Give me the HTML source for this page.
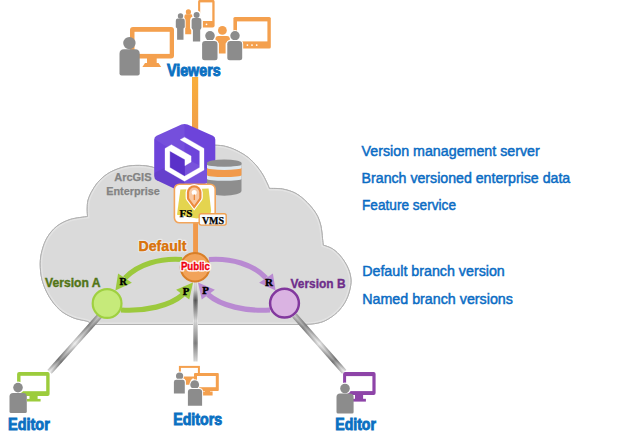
<!DOCTYPE html>
<html><head><meta charset="utf-8">
<style>
html,body{margin:0;padding:0;background:#fff;}
body{width:640px;height:445px;overflow:hidden;}
svg{display:block;}
text{font-family:"Liberation Sans",sans-serif;}
.serif{font-family:"Liberation Serif",serif;font-weight:bold;}
</style></head>
<body>
<svg width="640" height="445" viewBox="0 0 640 445">
<defs>
  <linearGradient id="gV" x1="0" y1="0" x2="1" y2="0">
    <stop offset="0" stop-color="#fbfbfb"/>
    <stop offset="0.1" stop-color="#e4e4e4"/>
    <stop offset="0.23" stop-color="#5e5e5e"/>
    <stop offset="0.36" stop-color="#a8a8a8"/>
    <stop offset="0.49" stop-color="#f6f6f6"/>
    <stop offset="0.77" stop-color="#8c8c8c"/>
    <stop offset="1" stop-color="#fafafa"/>
  </linearGradient>
  <linearGradient id="gVc" x1="0" y1="0" x2="0" y2="1">
    <stop offset="0" stop-color="#fff" stop-opacity="0.45"/>
    <stop offset="0.5" stop-color="#000" stop-opacity="0.12"/>
    <stop offset="1" stop-color="#fff" stop-opacity="0.45"/>
  </linearGradient>
  <linearGradient id="gD" x1="0" y1="0" x2="1" y2="0">
    <stop offset="0" stop-color="#bdbdbd"/>
    <stop offset="0.2" stop-color="#8c8c8c"/>
    <stop offset="0.5" stop-color="#f0f0f0"/>
    <stop offset="0.8" stop-color="#7c7c7c"/>
    <stop offset="1" stop-color="#f2f2f2"/>
  </linearGradient>
  <linearGradient id="gDc" x1="0" y1="0" x2="0" y2="1">
    <stop offset="0" stop-color="#000" stop-opacity="0.18"/>
    <stop offset="0.5" stop-color="#fff" stop-opacity="0.2"/>
    <stop offset="1" stop-color="#000" stop-opacity="0.18"/>
  </linearGradient>
  <linearGradient id="olg" x1="0" y1="0" x2="0" y2="1">
    <stop offset="0" stop-color="#f9ae3a"/>
    <stop offset="1" stop-color="#f09e4a"/>
  </linearGradient>
  <linearGradient id="hexg" x1="0" y1="0" x2="1" y2="1">
    <stop offset="0" stop-color="#7449e0"/>
    <stop offset="1" stop-color="#6438d2"/>
  </linearGradient>
</defs>
<rect width="640" height="445" fill="#fff"/>

<!-- ===== Viewers icons ===== -->
<!-- big monitor -->
<rect x="130" y="27" width="44" height="31.5" rx="3" fill="#f4a04e"/>
<rect x="134.5" y="31.8" width="35.2" height="22.1" fill="#fff"/>
<rect x="147" y="58" width="9.7" height="5.5" fill="#f4a04e"/>
<polygon points="142.4,67 161.2,67 158.5,63 145,63" fill="#f4a04e"/>
<!-- big person -->
<g fill="#8c8c8c">
  <circle cx="129.4" cy="43.1" r="6.2"/>
  <path d="M119.5,53.8 Q119.5,49.3 124.0,49.3 L135.2,49.3 Q139.7,49.3 139.7,53.8 L139.7,73.4 Q139.7,75.4 137.7,75.4 L121.5,75.4 Q119.5,75.4 119.5,73.4 Z"/>
</g>

<!-- phone -->
<rect x="198.1" y="-0.2" width="16.5" height="27.8" rx="2" fill="#f4a04e"/>
<rect x="200.2" y="2.4" width="12.1" height="18.6" fill="#fff"/>
<circle cx="206.5" cy="24.3" r="0.9" fill="#fff"/>
<!-- small people -->
<g fill="#f4a04e">
  <circle cx="188.4" cy="11.9" r="2.6"/>
  <path d="M184.4,16.3 Q184.4,14.2 186.4,14.2 L190.9,14.2 Q192.9,14.2 192.9,16.3 L192.9,25 L191.6,27 L191.6,34.2 L185.2,34.2 L185.2,27 L184.4,25 Z"/>
</g>
<g fill="#fff" stroke="#fff" stroke-width="1.6" stroke-linejoin="round">
    <circle cx="180.5" cy="16" r="2.7"/>
    <path d="M175.8,20.8 Q175.8,18.6 177.8,18.6 L182.8,18.6 Q184.8,18.6 184.8,20.8 L184.8,27.3 L183.5,28.5 L183.5,39.7 L177.1,39.7 L177.1,28.5 L175.8,27.3 Z"/>
</g>
<g fill="#8c8c8c">
    <circle cx="180.5" cy="16" r="2.7"/>
    <path d="M175.8,20.8 Q175.8,18.6 177.8,18.6 L182.8,18.6 Q184.8,18.6 184.8,20.8 L184.8,27.3 L183.5,28.5 L183.5,39.7 L177.1,39.7 L177.1,28.5 L175.8,27.3 Z"/>
</g>
<g fill="#fff" stroke="#fff" stroke-width="3" stroke-linejoin="round">
    <circle cx="196.6" cy="15" r="3"/>
    <path d="M191.6,20.3 Q191.6,18 193.8,18 L199.2,18 Q201.4,18 201.4,20.3 L201.4,28 L200.2,30 L200.2,41.4 L192.9,41.4 L192.9,30 L191.6,28 Z"/>
</g>
<g fill="#8c8c8c">
    <circle cx="196.6" cy="15" r="3"/>
    <path d="M191.6,20.3 Q191.6,18 193.8,18 L199.2,18 Q201.4,18 201.4,20.3 L201.4,28 L200.2,30 L200.2,41.4 L192.9,41.4 L192.9,30 L191.6,28 Z"/>
</g>

<!-- TV -->
<rect x="233.4" y="17" width="37.4" height="31.5" rx="1.5" fill="#f4a04e"/>
<rect x="237" y="21.4" width="30.4" height="20" fill="#fff"/>
<g fill="#fff"><circle cx="247.4" cy="45.1" r="0.9"/><circle cx="252" cy="45.1" r="0.9"/><circle cx="256.7" cy="45.1" r="0.9"/></g>
<!-- group people -->
<g stroke="#fff" stroke-width="2" paint-order="stroke">
  <g fill="#f4a04e">
    <circle cx="222.4" cy="30.4" r="4.4"/>
    <path d="M215.4,38.6 Q215.4,35.9 218.4,35.9 L226.9,35.9 Q229.9,35.9 229.9,38.6 L229.9,39.5 L225.6,43.4 L225.6,53.4 L218.8,53.4 L218.8,43.4 L215.4,39.5 Z"/>
  </g>
  <g fill="#8c8c8c">
    <circle cx="210" cy="35.8" r="4.8"/>
    <path d="M202.1,44.3 Q202.1,41.1 205.3,41.1 L214.3,41.1 Q217.5,41.1 217.5,44.3 L217.5,57.8 Q217.5,60.3 215,60.3 L204.6,60.3 Q202.1,60.3 202.1,57.8 Z"/>
    <circle cx="235" cy="35.8" r="4.7"/>
    <path d="M227.3,44.3 Q227.3,41.1 230.5,41.1 L239,41.1 Q242.2,41.1 242.2,44.3 L242.2,57.8 Q242.2,60.3 239.7,60.3 L229.8,60.3 Q227.3,60.3 227.3,57.8 Z"/>
  </g>
</g>

<text x="166.9" y="75.5" font-size="16" font-weight="bold" fill="#0a70c2" stroke="#0a70c2" stroke-width="0.9" textLength="53.8" lengthAdjust="spacingAndGlyphs">Viewers</text>

<!-- ===== Cloud ===== -->
<clipPath id="cloudclip"><path d="M87.5,216.5 C87.5,215.2 87.1,211.8 87.2,209 C87.3,206.2 87.2,203.2 88.1,200 C89,196.8 90.6,193.3 92.6,190 C94.5,186.7 96.8,183.2 99.8,180.2 C102.8,177.2 106.4,174.2 110.6,172 C114.8,169.8 120.2,167.8 125,166.7 C129.8,165.6 134.8,165.3 139.3,165.4 C143.8,165.5 147.7,165.9 152,167 C156.3,168.1 162.8,171.2 165,172 C166.7,169.2 170,159.3 175,155 C180,150.7 188,147.6 195,146 C202,144.4 211.7,145.1 217.2,145.3 C222.7,145.5 224.4,146.1 228,147.1 C231.6,148.1 235.4,149.8 238.8,151.6 C242.2,153.4 245.7,155.5 248.7,157.9 C251.7,160.3 254.3,163.2 256.7,166 C259.1,168.8 261.2,172 263,175 C264.8,178 266.4,181.8 267.5,184 C268.6,186.2 269,187.7 269.3,188.4 C271.5,188.5 278.1,188.2 282.5,189 C286.9,189.8 291.9,191.2 296,193.5 C300.1,195.8 303.8,199.1 307.2,202.5 C310.6,205.9 313.9,209.9 316.2,213.7 C318.4,217.4 319.6,220.9 320.7,225 C321.8,229.1 322.1,235.1 322.5,238.4 C322.9,241.8 323.1,244 323.2,245.1 C324.8,245.7 329.5,246.9 332.6,248.9 C335.7,250.9 339,254.1 341.6,257.4 C344.2,260.7 346.7,264.9 348.3,268.7 C349.9,272.4 350.8,276.2 351,279.9 C351.2,283.6 350.5,287.3 349.5,291 C348.5,294.7 347.1,298.7 345,302.3 C342.9,305.9 340.3,309.4 337.1,312.4 C333.9,315.4 329.6,318.4 325.9,320.3 C322.2,322.2 319,322.9 314.7,323.6 C310.4,324.3 302.4,324.4 300,324.5 L90,324.5 C89.7,324 90.7,322.6 87.9,321.5 C85.1,320.4 77.8,319.7 73.1,317.7 C68.4,315.7 63.6,313.3 59.6,309.7 C55.6,306.1 51.8,301.1 48.9,296.2 C46,291.2 43.5,285.4 42.1,280 C40.7,274.6 40.2,268.8 40.2,263.9 C40.2,259 40.9,254.9 42.1,250.4 C43.3,245.9 45,241 47.5,237 C50,233 53.1,229.1 56.9,226.2 C60.7,223.3 65.3,221 70.4,219.4 C75.5,217.8 84.7,217 87.5,216.5 Z"/></clipPath>
<path id="cloudp" d="M87.5,216.5 C87.5,215.2 87.1,211.8 87.2,209 C87.3,206.2 87.2,203.2 88.1,200 C89,196.8 90.6,193.3 92.6,190 C94.5,186.7 96.8,183.2 99.8,180.2 C102.8,177.2 106.4,174.2 110.6,172 C114.8,169.8 120.2,167.8 125,166.7 C129.8,165.6 134.8,165.3 139.3,165.4 C143.8,165.5 147.7,165.9 152,167 C156.3,168.1 162.8,171.2 165,172 C166.7,169.2 170,159.3 175,155 C180,150.7 188,147.6 195,146 C202,144.4 211.7,145.1 217.2,145.3 C222.7,145.5 224.4,146.1 228,147.1 C231.6,148.1 235.4,149.8 238.8,151.6 C242.2,153.4 245.7,155.5 248.7,157.9 C251.7,160.3 254.3,163.2 256.7,166 C259.1,168.8 261.2,172 263,175 C264.8,178 266.4,181.8 267.5,184 C268.6,186.2 269,187.7 269.3,188.4 C271.5,188.5 278.1,188.2 282.5,189 C286.9,189.8 291.9,191.2 296,193.5 C300.1,195.8 303.8,199.1 307.2,202.5 C310.6,205.9 313.9,209.9 316.2,213.7 C318.4,217.4 319.6,220.9 320.7,225 C321.8,229.1 322.1,235.1 322.5,238.4 C322.9,241.8 323.1,244 323.2,245.1 C324.8,245.7 329.5,246.9 332.6,248.9 C335.7,250.9 339,254.1 341.6,257.4 C344.2,260.7 346.7,264.9 348.3,268.7 C349.9,272.4 350.8,276.2 351,279.9 C351.2,283.6 350.5,287.3 349.5,291 C348.5,294.7 347.1,298.7 345,302.3 C342.9,305.9 340.3,309.4 337.1,312.4 C333.9,315.4 329.6,318.4 325.9,320.3 C322.2,322.2 319,322.9 314.7,323.6 C310.4,324.3 302.4,324.4 300,324.5 L90,324.5 C89.7,324 90.7,322.6 87.9,321.5 C85.1,320.4 77.8,319.7 73.1,317.7 C68.4,315.7 63.6,313.3 59.6,309.7 C55.6,306.1 51.8,301.1 48.9,296.2 C46,291.2 43.5,285.4 42.1,280 C40.7,274.6 40.2,268.8 40.2,263.9 C40.2,259 40.9,254.9 42.1,250.4 C43.3,245.9 45,241 47.5,237 C50,233 53.1,229.1 56.9,226.2 C60.7,223.3 65.3,221 70.4,219.4 C75.5,217.8 84.7,217 87.5,216.5 Z" fill="#dadada" stroke="#ababab" stroke-width="1"/>
<path d="M87.5,216.5 C87.5,215.2 87.1,211.8 87.2,209 C87.3,206.2 87.2,203.2 88.1,200 C89,196.8 90.6,193.3 92.6,190 C94.5,186.7 96.8,183.2 99.8,180.2 C102.8,177.2 106.4,174.2 110.6,172 C114.8,169.8 120.2,167.8 125,166.7 C129.8,165.6 134.8,165.3 139.3,165.4 C143.8,165.5 147.7,165.9 152,167 C156.3,168.1 162.8,171.2 165,172 C166.7,169.2 170,159.3 175,155 C180,150.7 188,147.6 195,146 C202,144.4 211.7,145.1 217.2,145.3 C222.7,145.5 224.4,146.1 228,147.1 C231.6,148.1 235.4,149.8 238.8,151.6 C242.2,153.4 245.7,155.5 248.7,157.9 C251.7,160.3 254.3,163.2 256.7,166 C259.1,168.8 261.2,172 263,175 C264.8,178 266.4,181.8 267.5,184 C268.6,186.2 269,187.7 269.3,188.4 C271.5,188.5 278.1,188.2 282.5,189 C286.9,189.8 291.9,191.2 296,193.5 C300.1,195.8 303.8,199.1 307.2,202.5 C310.6,205.9 313.9,209.9 316.2,213.7 C318.4,217.4 319.6,220.9 320.7,225 C321.8,229.1 322.1,235.1 322.5,238.4 C322.9,241.8 323.1,244 323.2,245.1 C324.8,245.7 329.5,246.9 332.6,248.9 C335.7,250.9 339,254.1 341.6,257.4 C344.2,260.7 346.7,264.9 348.3,268.7 C349.9,272.4 350.8,276.2 351,279.9 C351.2,283.6 350.5,287.3 349.5,291 C348.5,294.7 347.1,298.7 345,302.3 C342.9,305.9 340.3,309.4 337.1,312.4 C333.9,315.4 329.6,318.4 325.9,320.3 C322.2,322.2 319,322.9 314.7,323.6 C310.4,324.3 302.4,324.4 300,324.5 L90,324.5 C89.7,324 90.7,322.6 87.9,321.5 C85.1,320.4 77.8,319.7 73.1,317.7 C68.4,315.7 63.6,313.3 59.6,309.7 C55.6,306.1 51.8,301.1 48.9,296.2 C46,291.2 43.5,285.4 42.1,280 C40.7,274.6 40.2,268.8 40.2,263.9 C40.2,259 40.9,254.9 42.1,250.4 C43.3,245.9 45,241 47.5,237 C50,233 53.1,229.1 56.9,226.2 C60.7,223.3 65.3,221 70.4,219.4 C75.5,217.8 84.7,217 87.5,216.5 Z" fill="none" stroke="#e3e3e3" stroke-width="4" clip-path="url(#cloudclip)"/>
<path d="M87.5,216.5 C87.5,215.2 87.1,211.8 87.2,209 C87.3,206.2 87.2,203.2 88.1,200 C89,196.8 90.6,193.3 92.6,190 C94.5,186.7 96.8,183.2 99.8,180.2 C102.8,177.2 106.4,174.2 110.6,172 C114.8,169.8 120.2,167.8 125,166.7 C129.8,165.6 134.8,165.3 139.3,165.4 C143.8,165.5 147.7,165.9 152,167 C156.3,168.1 162.8,171.2 165,172 C166.7,169.2 170,159.3 175,155 C180,150.7 188,147.6 195,146 C202,144.4 211.7,145.1 217.2,145.3 C222.7,145.5 224.4,146.1 228,147.1 C231.6,148.1 235.4,149.8 238.8,151.6 C242.2,153.4 245.7,155.5 248.7,157.9 C251.7,160.3 254.3,163.2 256.7,166 C259.1,168.8 261.2,172 263,175 C264.8,178 266.4,181.8 267.5,184 C268.6,186.2 269,187.7 269.3,188.4 C271.5,188.5 278.1,188.2 282.5,189 C286.9,189.8 291.9,191.2 296,193.5 C300.1,195.8 303.8,199.1 307.2,202.5 C310.6,205.9 313.9,209.9 316.2,213.7 C318.4,217.4 319.6,220.9 320.7,225 C321.8,229.1 322.1,235.1 322.5,238.4 C322.9,241.8 323.1,244 323.2,245.1 C324.8,245.7 329.5,246.9 332.6,248.9 C335.7,250.9 339,254.1 341.6,257.4 C344.2,260.7 346.7,264.9 348.3,268.7 C349.9,272.4 350.8,276.2 351,279.9 C351.2,283.6 350.5,287.3 349.5,291 C348.5,294.7 347.1,298.7 345,302.3 C342.9,305.9 340.3,309.4 337.1,312.4 C333.9,315.4 329.6,318.4 325.9,320.3 C322.2,322.2 319,322.9 314.7,323.6 C310.4,324.3 302.4,324.4 300,324.5 L90,324.5 C89.7,324 90.7,322.6 87.9,321.5 C85.1,320.4 77.8,319.7 73.1,317.7 C68.4,315.7 63.6,313.3 59.6,309.7 C55.6,306.1 51.8,301.1 48.9,296.2 C46,291.2 43.5,285.4 42.1,280 C40.7,274.6 40.2,268.8 40.2,263.9 C40.2,259 40.9,254.9 42.1,250.4 C43.3,245.9 45,241 47.5,237 C50,233 53.1,229.1 56.9,226.2 C60.7,223.3 65.3,221 70.4,219.4 C75.5,217.8 84.7,217 87.5,216.5 Z" fill="none" stroke="#b0b0b0" stroke-width="1"/>

<!-- metallic lines to editors -->
<g transform="translate(195.5,282.0) rotate(90.00)"><rect x="0" y="-2.5" width="79.5" height="5" fill="url(#gV)"/><rect x="0" y="-2.5" width="79.5" height="5" fill="url(#gVc)"/></g>
<g transform="translate(100.0,315.5) rotate(131.84)"><rect x="0" y="-2.9" width="75.6" height="5.8" fill="url(#gD)"/><rect x="0" y="-2.9" width="75.6" height="5.8" fill="url(#gDc)"/></g>
<g transform="translate(294.5,315.5) rotate(48.56)"><rect x="0" y="-2.9" width="75.1" height="5.8" fill="url(#gD)"/><rect x="0" y="-2.9" width="75.1" height="5.8" fill="url(#gDc)"/></g>

<!-- orange line -->
<rect x="192" y="77" width="6.2" height="55" fill="url(#olg)"/>
<rect x="193.1" y="200" width="4.9" height="54" fill="#f1994a"/>

<!-- ===== Hexagon ===== -->
<clipPath id="hexclip"><path d="M181.5,124.6 Q184.5,123.3 187.5,124.6 L212.8,135.8 Q215.3,137 215.3,139.8 L215.3,176 Q215.3,179 212.8,180.2 L187.5,192 Q184.5,193.3 181.5,192 L156.7,180.2 Q154.2,179 154.2,176 L154.2,139.8 Q154.2,137 156.7,135.8 Z"/></clipPath>
<path d="M181.5,124.6 Q184.5,123.3 187.5,124.6 L212.8,135.8 Q215.3,137 215.3,139.8 L215.3,176 Q215.3,179 212.8,180.2 L187.5,192 Q184.5,193.3 181.5,192 L156.7,180.2 Q154.2,179 154.2,176 L154.2,139.8 Q154.2,137 156.7,135.8 Z" fill="#6d44da"/>
<g clip-path="url(#hexclip)">
  <polygon points="184.5,110 140,130 184.5,158" fill="#fff" opacity="0.06"/>
  <polygon points="230,180 184.5,205 184.5,158" fill="#fff" opacity="0.08"/>
  <polygon points="184.5,205 140,180 184.5,158" fill="#000" opacity="0.06"/>
</g>
<polygon points="169.8,150.9 184.9,159.6 184.9,176.2 169.8,167.5" fill="#5a31c9"/>
<polygon points="184.5,137.2 204,148.4 204,170 184.5,181.2 165,170 165,148.4 171.4,144.7 191.1,156 191.1,162.1 184.9,165.7 184.9,159.6 169.8,150.9 169.8,167.5 184.5,176.2 199.7,167.5 199.7,150.9 180.1,139.7" fill="#fff" stroke="#fff" stroke-width="0.3" stroke-linejoin="round"/>

<!-- database cylinder -->
<g>
  <path d="M207,163 L207,190.8 A17.25,4.9 0 0 0 241.5,190.8 L241.5,163 Z" fill="#8e8e8e"/>
  <path d="M207,164.8 A17.25,1.8 0 0 0 241.5,164.8 L241.5,179 A17.25,1.8 0 0 1 207,179 Z" fill="#dfe8ee"/>
  <path d="M207,168.1 A17.25,1.8 0 0 0 241.5,168.1 L241.5,175.3 A17.25,1.8 0 0 1 207,175.3 Z" fill="#f09a4c"/>
  <ellipse cx="224.25" cy="163" rx="17.25" ry="3.6" fill="#8e8e8e"/>
</g>

<!-- FS icon -->
<rect x="174.4" y="184.2" width="40.8" height="38.6" rx="5" fill="#fff" stroke="#f2a55c" stroke-width="1.6"/>
<path d="M180.4,189.4 L208.6,188.4 L211.1,210.7 L210,216 L196.8,218.6 L177,214.7 Z" fill="#e4d44f"/>
<path d="M194.2,210.6 L186.3,200 Q185.6,198.8 185.6,197 L185.6,192.6 A8.6,8.6 0 0 1 202.8,192.6 L202.8,197 Q202.8,198.8 202.1,200 Z" fill="#fff"/>
<path d="M194.2,208.8 L187.4,199.6 Q186.9,198.7 186.9,197.2 L186.9,192.6 A7.3,7.3 0 0 1 201.5,192.6 L201.5,197.2 Q201.5,198.7 201,199.6 Z" fill="#ec8a3c"/>
<path d="M194.2,205.2 L189.5,198.8 Q189.1,198.2 189.1,197.2 L189.1,192.6 A5.1,5.1 0 0 1 199.3,192.6 L199.3,197.2 Q199.3,198.2 198.9,198.8 Z" fill="#f8c8a2"/>
<circle cx="194.2" cy="192.4" r="2.5" fill="#fff"/>
<rect x="193.7" y="194.5" width="1.3" height="5.5" fill="#ec8a3c"/>
<text class="serif" x="179.6" y="217.2" font-size="9.6" fill="#000" stroke="#000" stroke-width="0.25" textLength="12.9" lengthAdjust="spacingAndGlyphs">FS</text>
<rect x="199.2" y="213.7" width="27" height="11.4" rx="2" fill="#f6fafd" stroke="#f0a050" stroke-width="1.4"/>
<text class="serif" x="201.9" y="223.9" font-size="10.3" fill="#000" stroke="#000" stroke-width="0.25" textLength="22.2" lengthAdjust="spacingAndGlyphs">VMS</text>

<text x="114.2" y="180.8" font-size="11.2" font-weight="bold" fill="#838383" stroke="#838383" stroke-width="0.25" textLength="37.3" lengthAdjust="spacingAndGlyphs">ArcGIS</text>
<text x="106.2" y="194.8" font-size="11" font-weight="bold" fill="#838383" stroke="#838383" stroke-width="0.25" textLength="53.6" lengthAdjust="spacingAndGlyphs">Enterprise</text>

<text x="138.5" y="250.5" font-size="14.3" font-weight="bold" fill="#d9740e" stroke="#fff" stroke-opacity="0.45" stroke-width="2.6" stroke-linejoin="round" textLength="48" lengthAdjust="spacingAndGlyphs">Default</text>
<text x="138.5" y="250.5" font-size="14.3" font-weight="bold" fill="#d9740e" stroke="#d9740e" stroke-width="0.25" textLength="48" lengthAdjust="spacingAndGlyphs">Default</text>

<!-- ===== arrows ===== -->
<g id="greenside">
  <path d="M182,259.5 C160,258 138,264 125,278" fill="none" stroke="#9cc93d" stroke-width="5.2"/>
  <polygon points="118.1,273.4 131.9,282.7 115.4,290.6" fill="#9cc93d"/>
  <path d="M121,310 C145,311.5 170,306 183,294.5" fill="none" stroke="#9cc93d" stroke-width="5.2"/>
  <polygon points="176.1,289.75 189.25,299.4 193,282.5" fill="#9cc93d"/>
  <circle cx="107.1" cy="303.5" r="14.4" fill="#c6ea7a" stroke="#9fd040" stroke-width="2.2"/>
</g>
<g>
  <path d="M209,259.5 C231,258 253,264 266,278" fill="none" stroke="#b98ad2" stroke-width="5.2"/>
  <polygon points="272.9,273.4 259.1,282.7 275.6,290.6" fill="#b98ad2"/>
  <path d="M270,310 C246,311.5 221,306 208,294.5" fill="none" stroke="#b98ad2" stroke-width="5.2"/>
  <polygon points="214.9,289.75 201.75,299.4 198,282.5" fill="#b98ad2"/>
  <circle cx="284.5" cy="303.2" r="14.4" fill="#dab3e2" stroke="#82389e" stroke-width="2.5"/>
</g>

<circle cx="195" cy="267.2" r="14.3" fill="#f2a35a" stroke="#d97f28" stroke-width="2"/>
<text x="180.9" y="269.9" font-size="11" font-weight="bold" fill="#fff" stroke="#fff" stroke-width="3.2" stroke-linejoin="round" textLength="29" lengthAdjust="spacingAndGlyphs">Public</text>
<text x="180.9" y="269.9" font-size="11" font-weight="bold" fill="#f00010" stroke="#f00010" stroke-width="0.35" textLength="29" lengthAdjust="spacingAndGlyphs">Public</text>

<g class="serif" font-size="11" fill="#000" stroke="#000" stroke-width="0.45">
  <text class="serif" x="119.4" y="285.3" textLength="7.4" lengthAdjust="spacingAndGlyphs">R</text>
  <text class="serif" x="182.8" y="294.5" textLength="6.6" lengthAdjust="spacingAndGlyphs">P</text>
  <text class="serif" x="202.3" y="294" textLength="6.6" lengthAdjust="spacingAndGlyphs">P</text>
  <text class="serif" x="264.9" y="285.6" textLength="7.9" lengthAdjust="spacingAndGlyphs">R</text>
</g>

<text x="45" y="286.8" font-size="12.8" font-weight="bold" fill="#527516" stroke="#527516" stroke-width="0.4" textLength="55.5" lengthAdjust="spacingAndGlyphs">Version A</text>
<text x="290.5" y="287.8" font-size="12.8" font-weight="bold" fill="#6e2d8a" stroke="#6e2d8a" stroke-width="0.35" textLength="55" lengthAdjust="spacingAndGlyphs">Version B</text>

<!-- ===== right-side legend ===== -->
<g font-size="15.3" fill="#0a6cc4" stroke="#0a6cc4" stroke-width="0.5">
  <text x="361.6" y="155.6" textLength="178.2" lengthAdjust="spacingAndGlyphs">Version management server</text>
  <text x="361.6" y="182.5" textLength="208.6" lengthAdjust="spacingAndGlyphs">Branch versioned enterprise data</text>
  <text x="362" y="210.1" textLength="94" lengthAdjust="spacingAndGlyphs">Feature service</text>
  <text x="362.2" y="275.6" textLength="142.6" lengthAdjust="spacingAndGlyphs">Default branch version</text>
  <text x="362.2" y="304" textLength="150.7" lengthAdjust="spacingAndGlyphs">Named branch versions</text>
</g>

<!-- ===== Editors ===== -->
<!-- left editor (green) -->
<rect x="17.1" y="372" width="32.5" height="23.9" rx="2" fill="#9ccc3c"/>
<rect x="20.5" y="375.8" width="25.7" height="15.4" fill="#fff"/>
<rect x="29.5" y="395.5" width="8.1" height="3.6" fill="#9ccc3c"/>
<rect x="27" y="398.9" width="13.6" height="2.6" fill="#9ccc3c"/>
<g fill="#8c8c8c">
  <circle cx="18" cy="387.6" r="4.8" stroke="#fff" stroke-width="2.6" paint-order="stroke"/>
  <path d="M9.5,396.5 Q9.5,393 13,393 L23.3,393 Q26.8,393 26.8,396.5 L26.8,411.4 Q26.8,412.9 25.3,412.9 L11,412.9 Q9.5,412.9 9.5,411.4 Z"/>
</g>
<text x="8.1" y="429.7" font-size="16" font-weight="bold" fill="#0a70c2" stroke="#0a70c2" stroke-width="0.9" textLength="41.7" lengthAdjust="spacingAndGlyphs">Editor</text>

<!-- middle editors (orange) -->
<rect x="179.9" y="366.9" width="19" height="10.6" fill="none" stroke="#f4a04e" stroke-width="2"/>
<polygon points="183.6,377.6 193,377.6 190.6,380.8 190.6,384.7 185.8,384.7 185.8,380.8" fill="#f4a04e"/>
<g fill="#8c8c8c" stroke="#fff" stroke-width="1.8" paint-order="stroke">
  <circle cx="179.6" cy="376" r="3.6"/>
  <path d="M173.9,382 Q173.9,379.7 176.2,379.7 L182.5,379.7 Q184.8,379.7 184.8,382 L184.8,393.6 L173.9,393.6 Z"/>
</g>
<rect x="194" y="373" width="24.8" height="17.9" rx="1" fill="#f4a04e"/>
<rect x="197" y="376" width="18.8" height="11.2" fill="#fff"/>
<rect x="205" y="390" width="5" height="2.5" fill="#f4a04e"/>
<rect x="202" y="391.5" width="10.6" height="4" fill="#f4a04e"/>
<g fill="#8c8c8c" stroke="#fff" stroke-width="2" paint-order="stroke">
  <circle cx="194.7" cy="384.7" r="4.4"/>
  <path d="M187.9,392 Q187.9,389 190.9,389 L199.1,389 Q202.1,389 202.1,392 L202.1,405.7 L187.9,405.7 Z"/>
</g>
<text x="173.2" y="424.7" font-size="16" font-weight="bold" fill="#0a70c2" stroke="#0a70c2" stroke-width="0.9" textLength="49" lengthAdjust="spacingAndGlyphs">Editors</text>

<!-- right editor (purple) -->
<rect x="343.1" y="372" width="32.5" height="23.1" rx="2" fill="#8e44a8"/>
<rect x="346.1" y="376.1" width="26.3" height="15" fill="#fff"/>
<rect x="355" y="394.8" width="8.1" height="4.2" fill="#8e44a8"/>
<rect x="353" y="398.8" width="12.9" height="2.8" fill="#8e44a8"/>
<g fill="#8c8c8c">
  <circle cx="345" cy="388.5" r="4.8" stroke="#fff" stroke-width="2.6" paint-order="stroke"/>
  <path d="M336.5,397.1 Q336.5,393.6 340,393.6 L350.1,393.6 Q353.6,393.6 353.6,397.1 L353.6,412.1 Q353.6,413.6 352.1,413.6 L338,413.6 Q336.5,413.6 336.5,412.1 Z"/>
</g>
<text x="335.3" y="429.9" font-size="16" font-weight="bold" fill="#0a70c2" stroke="#0a70c2" stroke-width="0.9" textLength="40.6" lengthAdjust="spacingAndGlyphs">Editor</text>

</svg>
</body></html>
